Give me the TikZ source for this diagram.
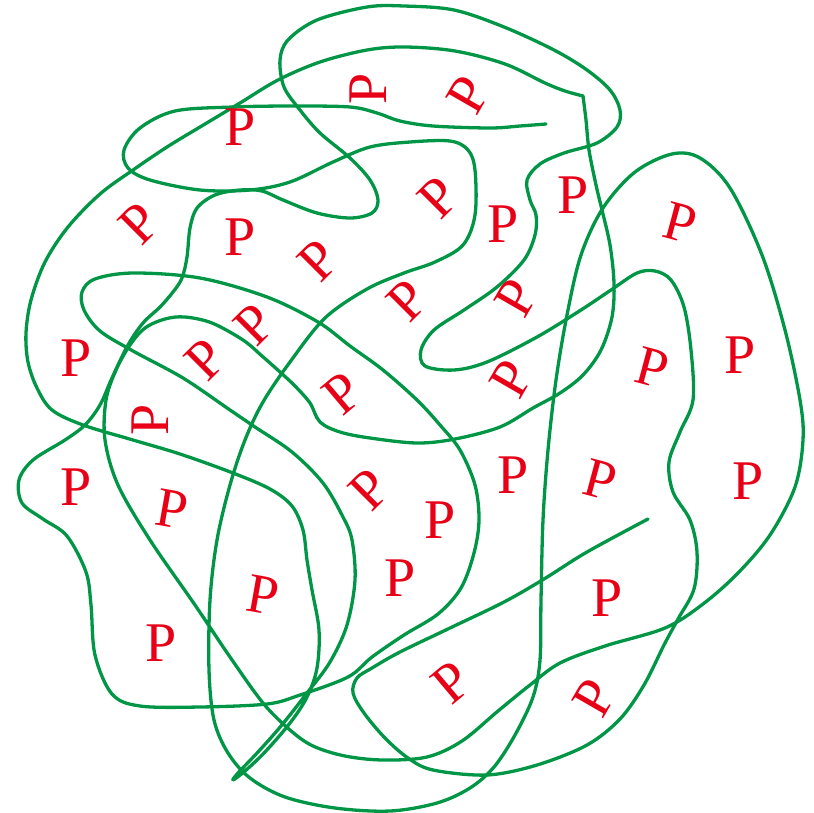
\documentclass[tikz,border=0pt]{standalone}
\usepackage{fontspec}
\setmainfont{Liberation Serif}
\definecolor{lgreen}{RGB}{0,150,70}
\definecolor{lred}{RGB}{232,0,22}
\tikzset{
  curve/.style={draw=lgreen, line width=3.3pt, line join=round, line cap=round},
  pp/.style={text=lred, font=\fontsize{56}{56}\selectfont, inner sep=0pt}
}
\begin{document}
\begin{tikzpicture}[x=1pt,y=-1pt]
\useasboundingbox (0,0) rectangle (814,812);
% path 1: free end -> ... -> corner
\draw[curve] plot[smooth, tension=0.55] coordinates {
(546,124) (520,126) (490,128) (433,126) (400,121) (377,113) (350,107) (293,106)
(233,107) (175,111) (140,128) (124,150) (128,168) (150,180) (200,190) (250,190)
(290,182) (333,162) (370,147) (410,142) (450,141) (468,150) (475,170) (475,215)
(463,245) (435,262) (404,273) (367,289) (325,318) (290,362) (263,402) (245,440)
(230,485) (217,540) (210,600) (209,670) (214,720) (228,753) (250,778) (285,797)
(335,808) (390,811) (437,803) (470,788) (494,767) (515,735) (533,697) (540,660)
(541,600) (543,520) (548,450) (556,380) (567,315) (581,255) (603,208) (635,172)
(672,154) (700,158) (730,188) (762,255) (785,330) (800,400) (803,440) (795,487)
(770,535) (738,573) (703,604) (665,628) (605,646) (560,663) (530,685) (498,711)
(462,741) (427,757) (383,760) (345,756) (313,746) (290,730) (263,703) (230,657)
(195,605) (150,540) (118,485) (105,440) (106,400) (116,370) (130,345) (145,328)
(165,319) (185,317) (212,323) (243,340) (262,356) (280,372) (295,386) (310,403)
(320,422) (340,432) (370,438) (417,443) (455,439) (500,427) (533,408) (560,393)
(583,375) (601,350) (612,317) (614,283) (610,245) (602,210) (596,185) (589,150)
(586,120) (583,96)};
% path 2: corner -> ... -> free end
\draw[curve] plot[smooth, tension=0.55] coordinates {
(583,96) (565,91) (545,83) (505,64) (455,51) (405,47) (367,50) (320,62)
(278,80) (240,103) (200,127) (167,147) (133,170) (100,194) (68,227) (45,262)
(31,300) (26,333) (28,362) (37,388) (52,410) (83,425) (133,440) (180,454)
(233,473) (270,489) (292,506) (303,530) (307,560) (312,590) (319,630) (317,668)
(307,697) (290,723) (265,752) (245,771) (233,780) (238,773) (258,752) (281,726)
(307,693) (330,662) (347,625) (355,580) (352,540) (343,517) (323,483) (292,452)
(255,427) (230,410) (183,378) (133,351) (100,331) (84,310) (82,292) (95,279)
(133,273) (200,278) (267,297) (318,322) (350,346) (383,370) (417,400) (440,425)
(460,450) (475,485) (479,520) (474,553) (461,588) (438,614) (404,635) (372,657)
(348,677) (300,695) (267,704) (200,707) (140,706) (112,694) (95,655) (91,605)
(86,572) (67,536) (43,519) (22,503) (19,480) (33,460) (65,440) (85,425)
(100,405) (112,378) (128,345) (143,323) (160,307) (173,292) (182,278) (187,257)
(190,228) (197,208) (215,195) (240,190) (262,191) (283,200) (317,213) (350,218)
(372,213) (378,200) (370,180) (350,158) (320,133) (300,110) (284,87) (280,60)
(288,40) (317,20) (367,7) (404,6) (454,10) (504,27) (554,50) (587,70)
(610,90) (620,110) (617,127) (597,143) (564,153) (540,164) (527,180) (530,200)
(536,215) (535,235) (524,260) (497,287) (464,310) (434,330) (421,350) (425,366)
(454,370) (487,362) (537,337) (581,310) (611,290) (637,273) (655,271) (671,280)
(684,307) (691,350) (693,400) (680,432) (669,462) (673,492) (690,520) (697,552)
(694,589) (678,619) (664,645) (644,685) (620,719) (587,745) (537,765) (487,775)
(433,770) (408,758) (385,738) (364,713) (353,693) (357,678) (372,668) (400,652)
(450,628) (504,602) (544,579) (587,552) (648,519)};
% letters
\node[pp] (p1) at (240,127) {P};
\node[pp,rotate=90] (p2) at (368,89) {P};
\node[pp,rotate=60] (p3) at (468,95) {P};
\node[pp,rotate=45] (p4) at (140,224) {P};
\node[pp] (p5) at (240,237) {P};
\node[pp,rotate=45] (p6) at (319,261) {P};
\node[pp,rotate=45] (p7) at (439,198) {P};
\node[pp] (p8) at (503,224) {P};
\node[pp] (p9) at (573,195) {P};
\node[pp,rotate=-15] (p10) at (680,223) {P};
\node[pp,rotate=45] (p11) at (408,301) {P};
\node[pp,rotate=60] (p12) at (516,298) {P};
\node[pp,rotate=45] (p13) at (255,325) {P};
\node[pp,rotate=45] (p14) at (206,360) {P};
\node[pp] (p15) at (76,358) {P};
\node[pp,rotate=40] (p16) at (343,393) {P};
\node[pp,rotate=60] (p17) at (511,379) {P};
\node[pp,rotate=-15] (p18) at (652,368) {P};
\node[pp] (p19) at (740,355) {P};
\node[pp,rotate=90] (p20) at (150,420) {P};
\node[pp] (p21) at (76,487) {P};
\node[pp,rotate=-10] (p22) at (172,509) {P};
\node[pp,rotate=45] (p23) at (370,490) {P};
\node[pp] (p24) at (440,520) {P};
\node[pp] (p25) at (513,475) {P};
\node[pp,rotate=-15] (p26) at (600,480) {P};
\node[pp] (p27) at (748,481) {P};
\node[pp,rotate=-10] (p28) at (263,595) {P};
\node[pp] (p29) at (400,578) {P};
\node[pp] (p30) at (607,598) {P};
\node[pp] (p31) at (161,643) {P};
\node[pp,rotate=40] (p32) at (452,682) {P};
\node[pp,rotate=60] (p33) at (594,698) {P};
\end{tikzpicture}
\end{document}
